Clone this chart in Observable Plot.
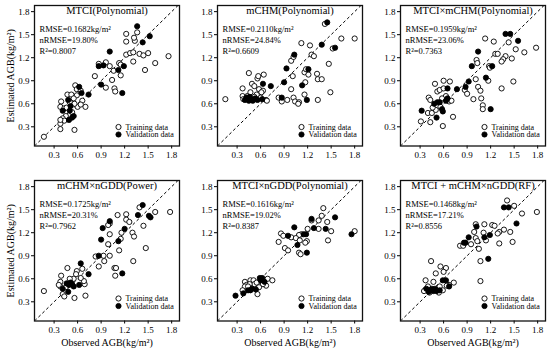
<!DOCTYPE html>
<html><head><meta charset="utf-8">
<script src="https://cdn.jsdelivr.net/npm/d3@7"></script>
<script src="https://cdn.jsdelivr.net/npm/@observablehq/plot@0.6"></script>
<style>
body{margin:0;background:#fff}
#chart{position:relative;width:550px;height:351px;overflow:hidden;background:#fff}
#chart svg{position:absolute}
</style>
</head><body><div id="chart"></div>
<script>
// ---- data (observed, estimated) ----
const titles = ["MTCI(Polynomial)","mCHM(Polynomial)","MTCI×mCHM(Polynomial)","mCHM×nGDD(Power)","MTCI×nGDD(Polynomial)","MTCI + mCHM×nGDD(RF)"];
const rmse = ["0.1682","0.2110","0.1959","0.1725","0.1616","0.1468"];
const nrmse = ["19.80","24.84","23.06","20.31","19.02","17.21"];
const r2 = ["0.8007","0.6609","0.7363","0.7962","0.8387","0.8556"];
const tickValues = [0.3,0.6,0.9,1.2,1.5,1.8];
const legendLabels = ["Training data","Validation data"];
const xTitle = "Observed AGB(kg/m²)";
const yTitle = "Estimated AGB(kg/m²)";

const train1 = [[1.22,1.51],[1.33,1.42],[1.36,1.53],[1.32,1.46],[1.22,1.41],[1.22,1.24],[1.27,1.26],[1.31,1.27],[1.39,1.25],[1.44,1.23],[1.50,1.26],[1.76,1.22],[1.59,1.13],[1.46,1.04],[1.31,1.15],[1.13,1.13],[1.15,1.11],[0.87,1.12],[0.96,1.14],[1.01,1.09],[1.06,1.03],[1.04,0.91],[0.96,0.81],[1.07,0.80],[1.08,0.76],[1.15,0.97],[0.82,0.96],[0.57,0.84],[0.47,0.72],[0.52,0.72],[0.59,0.71],[0.59,0.79],[0.64,0.77],[0.55,0.67],[0.66,0.64],[0.70,0.56],[0.60,0.56],[0.64,0.59],[0.39,0.63],[0.38,0.56],[0.43,0.54],[0.45,0.44],[0.41,0.41],[0.43,0.38],[0.38,0.34],[0.38,0.39],[0.38,0.27],[0.56,0.26],[0.17,0.17],[0.50,0.62],[0.56,0.60],[0.46,0.55],[0.53,0.49]];
const val1 = [[1.36,1.61],[1.52,1.48],[1.43,1.40],[1.01,1.28],[0.87,1.09],[0.93,1.10],[1.12,1.04],[1.19,1.09],[0.90,0.85],[1.17,0.74],[0.74,0.72],[0.62,0.82],[0.65,0.74],[0.48,0.65],[0.51,0.57],[0.41,0.51],[0.50,0.51],[0.55,0.44],[0.53,0.42],[0.49,0.39]];

const train2 = [[1.42,1.64],[1.63,1.45],[1.80,1.45],[1.12,1.39],[1.23,1.36],[1.25,1.24],[1.28,1.22],[1.52,1.32],[0.99,1.16],[1.02,1.21],[1.47,1.12],[1.16,1.01],[1.18,1.05],[1.01,0.96],[1.21,0.98],[1.32,0.99],[1.33,0.92],[1.38,0.92],[1.17,0.88],[0.99,0.79],[1.49,0.75],[0.83,0.68],[0.87,0.63],[0.94,0.65],[1.02,0.68],[1.04,0.63],[1.09,0.62],[1.08,0.60],[1.16,0.72],[1.33,0.65],[0.45,1.00],[0.64,0.98],[0.56,0.93],[0.57,0.96],[0.49,0.86],[0.52,0.83],[0.37,0.80],[0.58,0.79],[0.63,0.77],[0.61,0.75],[0.37,0.70],[0.15,0.66],[0.67,0.65],[0.60,0.68],[0.43,0.70],[0.55,0.72],[0.47,0.75],[0.38,0.66],[0.68,0.64],[0.52,0.69]];
const val2 = [[1.45,1.66],[1.38,1.37],[1.55,1.33],[1.03,1.24],[1.21,1.05],[0.93,1.06],[0.90,0.88],[1.13,0.84],[0.73,0.83],[0.63,0.86],[0.87,0.68],[1.19,0.65],[0.62,0.66],[0.40,0.65],[0.45,0.64],[0.48,0.66],[0.50,0.64],[0.53,0.67],[0.56,0.65],[0.42,0.68],[0.46,0.69]];

const train3 = [[1.13,1.45],[1.24,1.41],[1.43,1.40],[1.78,1.33],[1.63,1.27],[1.52,1.31],[1.26,1.25],[1.29,1.25],[1.39,1.22],[1.36,1.18],[1.34,1.15],[1.47,1.19],[1.02,1.17],[1.03,1.13],[1.18,1.09],[1.19,1.07],[1.01,0.92],[1.17,0.90],[1.49,0.89],[1.34,0.80],[1.04,0.82],[1.07,0.77],[0.98,0.66],[1.08,0.67],[1.10,0.58],[1.10,0.53],[0.87,0.78],[0.90,0.73],[0.49,0.86],[0.60,0.90],[0.68,0.89],[0.52,0.76],[0.55,0.78],[0.60,0.80],[0.63,0.70],[0.41,0.68],[0.43,0.65],[0.67,0.63],[0.70,0.64],[0.72,0.43],[0.59,0.31],[0.31,0.37],[0.43,0.36],[0.40,0.48],[0.45,0.48],[0.50,0.52],[0.56,0.56],[0.58,0.67],[0.46,0.55]];
const val3 = [[1.39,1.51],[1.45,1.51],[1.55,1.42],[1.04,1.28],[0.96,1.09],[1.22,1.09],[1.14,0.94],[0.92,0.89],[0.88,0.82],[0.77,0.79],[0.65,0.80],[0.65,0.67],[1.20,0.53],[0.52,0.62],[0.55,0.62],[0.58,0.53],[0.59,0.50],[0.32,0.51],[0.51,0.42],[0.63,0.64],[0.48,0.60]];

const train4 = [[1.22,1.44],[1.22,1.37],[1.26,1.34],[1.11,1.43],[1.39,1.53],[1.59,1.47],[1.78,1.47],[1.01,1.32],[0.99,1.30],[1.44,1.29],[1.30,1.20],[1.32,1.15],[1.16,1.20],[1.01,1.18],[1.15,1.12],[1.47,1.00],[0.99,1.05],[1.13,0.97],[1.01,0.90],[0.93,0.90],[0.94,0.83],[0.83,0.89],[1.31,0.83],[1.07,0.74],[1.09,0.74],[0.87,0.76],[1.08,0.64],[0.69,0.53],[0.68,0.57],[0.47,0.74],[0.59,0.70],[0.66,0.73],[0.39,0.64],[0.55,0.60],[0.64,0.61],[0.38,0.56],[0.41,0.40],[0.43,0.37],[0.17,0.44],[0.56,0.35],[0.70,0.38],[0.45,0.49],[0.38,0.50],[0.58,0.66],[0.50,0.60],[0.36,0.52]];
const val4 = [[1.43,1.56],[1.37,1.43],[1.51,1.42],[1.53,1.40],[1.01,1.35],[0.92,1.26],[1.20,1.25],[0.90,1.11],[1.12,1.09],[0.87,0.90],[0.74,0.66],[1.17,0.67],[0.64,0.80],[0.62,0.52],[0.49,0.52],[0.51,0.55],[0.53,0.53],[0.41,0.47],[0.48,0.43],[0.55,0.50],[0.46,0.54]];

const train5 = [[1.40,1.52],[1.38,1.42],[1.34,1.36],[1.25,1.36],[1.45,1.34],[1.34,1.25],[1.20,1.25],[1.50,1.22],[1.80,1.22],[1.12,1.18],[1.09,1.17],[0.86,1.19],[0.89,1.16],[0.99,1.14],[1.05,1.13],[1.10,1.10],[1.19,1.09],[1.46,1.10],[1.17,1.07],[0.83,1.08],[0.91,1.00],[0.95,0.97],[1.09,0.94],[1.11,0.92],[0.40,0.56],[0.42,0.52],[0.47,0.58],[0.51,0.58],[0.60,0.57],[0.69,0.60],[0.75,0.58],[0.40,0.50],[0.67,0.51],[0.56,0.40],[0.52,0.53],[0.46,0.53],[0.37,0.45],[0.55,0.55],[0.63,0.53],[0.44,0.50],[0.58,0.49]];
const val5 = [[1.55,1.40],[1.25,1.38],[1.03,1.27],[1.18,1.18],[1.15,1.18],[1.28,1.26],[1.43,1.25],[0.95,1.16],[1.07,1.04],[1.19,0.94],[1.76,1.18],[0.59,0.61],[0.62,0.61],[0.65,0.56],[0.54,0.46],[0.47,0.45],[0.49,0.47],[0.38,0.41],[0.28,0.38],[0.60,0.58],[0.44,0.45]];

const train6 = [[1.41,1.62],[1.50,1.55],[1.60,1.45],[1.79,1.47],[1.01,1.31],[1.12,1.31],[1.22,1.30],[1.25,1.29],[0.99,1.21],[1.11,1.20],[1.37,1.24],[1.31,1.21],[1.29,1.19],[1.45,1.21],[1.48,1.08],[1.31,1.06],[1.01,1.13],[1.03,1.09],[1.14,1.10],[0.81,1.03],[0.85,1.03],[0.95,1.05],[1.05,0.99],[1.07,0.83],[1.07,0.57],[0.44,0.83],[0.56,0.76],[0.63,0.74],[0.60,0.69],[0.50,0.67],[0.37,0.58],[0.73,0.55],[0.67,0.52],[0.47,0.56],[0.37,0.46],[0.42,0.42],[0.54,0.42],[0.59,0.45],[0.64,0.51],[0.55,0.50],[0.40,0.50],[0.35,0.44]];
const val6 = [[1.37,1.53],[1.43,1.53],[1.53,1.32],[1.02,1.28],[1.19,1.17],[1.12,1.14],[0.92,1.14],[0.86,1.07],[0.88,1.07],[1.17,0.86],[0.63,0.58],[0.59,0.58],[0.67,0.50],[0.55,0.45],[0.51,0.44],[0.47,0.44],[0.43,0.45],[0.41,0.43],[0.49,0.47],[0.45,0.47],[0.38,0.47]];

const trainSets = [train1,train2,train3,train4,train5,train6];
const valSets = [val1,val2,val3,val4,val5,val6];

// ---- layout ----
const xDomain = [0.05, 1.9];
const yDomain = [0.05, 1.88];
const colLeft = [34, 216.5, 400];
const rowTop = [4.7, 179.5];
const frameW = 145, frameH = 140.5;
const mL = 36, mT = 6, mR = 6, mB = 34;
const font = "'Liberation Serif', 'Times New Roman', serif";
const chart = document.getElementById("chart");

titles.forEach((title, i) => {
  const col = i % 3, row = Math.floor(i / 3);
  const legDy = row === 0 ? [-19, -11.5] : [-22.5, -15];
  const marks = [
    Plot.link([0], {x1: () => xDomain[0], y1: () => xDomain[0], x2: () => xDomain[1], y2: () => xDomain[1],
      stroke: "black", strokeWidth: 1, strokeDasharray: "3,2.5", clip: true}),
    Plot.dot(trainSets[i], {x: d => d[0], y: d => d[1], r: 2.6, stroke: "black", strokeWidth: 0.9, fill: "white"}),
    Plot.dot(valSets[i], {x: d => d[0], y: d => d[1], r: 2.6, stroke: "black", strokeWidth: 0.9, fill: "black"}),
    Plot.frame({stroke: "#111", strokeWidth: 1.3}),
    Plot.text([title], {frameAnchor: "top", lineAnchor: "top", dy: 1.5, fontSize: 10.5, fill: "black"}),
    Plot.text([`RMSE=${rmse[i]}kg/m²\nnRMSE=${nrmse[i]}%\nR²=${r2[i]}`],
      {frameAnchor: "top-left", textAnchor: "start", lineAnchor: "top", dx: 5, dy: 19, fontSize: 8.5, lineHeight: 1.3, fill: "black"}),
    Plot.dot([0], {frameAnchor: "bottom-left", dx: 84, dy: legDy[0], r: 2.6, stroke: "black", strokeWidth: 0.9, fill: "white"}),
    Plot.dot([0], {frameAnchor: "bottom-left", dx: 84, dy: legDy[1], r: 2.6, stroke: "black", strokeWidth: 0.9, fill: "black"}),
    Plot.text([legendLabels[0]], {frameAnchor: "bottom-left", textAnchor: "start", lineAnchor: "middle", dx: 91, dy: legDy[0], fontSize: 8, fill: "black"}),
    Plot.text([legendLabels[1]], {frameAnchor: "bottom-left", textAnchor: "start", lineAnchor: "middle", dx: 91, dy: legDy[1], fontSize: 8, fill: "black"})
  ];
  if (col === 0) marks.push(Plot.text([yTitle], {frameAnchor: "left", textAnchor: "middle", lineAnchor: "middle", rotate: -90, dx: -24, fontSize: 10, fill: "black"}));
  if (row === 1) marks.push(Plot.text([xTitle], {frameAnchor: "bottom", textAnchor: "middle", lineAnchor: "middle", dy: 21.5, fontSize: 10, fill: "black"}));

  const svg = Plot.plot({
    width: mL + frameW + mR,
    height: mT + frameH + mB,
    marginLeft: mL, marginTop: mT, marginRight: mR, marginBottom: mB,
    style: {fontFamily: font, fontSize: "9px", color: "black", background: "transparent", overflow: "visible"},
    x: {domain: xDomain, ticks: tickValues, tickFormat: ".1f", tickSize: 3, tickPadding: 3, label: null},
    y: {domain: yDomain, ticks: tickValues, tickFormat: ".1f", tickSize: 3, tickPadding: 2, label: null},
    marks
  });
  svg.style.left = (colLeft[col] - mL) + "px";
  svg.style.top = (rowTop[row] - mT) + "px";
  chart.appendChild(svg);
});
</script>
</body></html>
